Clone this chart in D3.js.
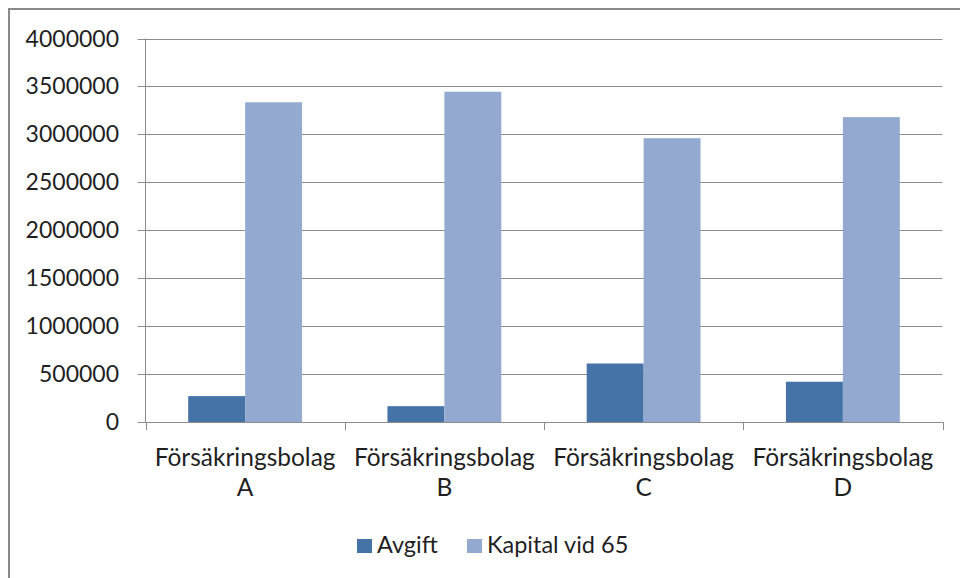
<!DOCTYPE html>
<html>
<head>
<meta charset="utf-8">
<script src="https://cdn.jsdelivr.net/npm/d3@7"></script>
<style>
  body { margin: 0; background: #fff; }
  text { font-family: Lato, "Open Sans", sans-serif; fill: #1f1f1f; }
</style>
</head>
<body>
<div class="content"></div>
<script>
var svgWidth = 960;
var svgHeight = 578;

// Data.
var companies = ["Försäkringsbolag A", "Försäkringsbolag B", "Försäkringsbolag C", "Försäkringsbolag D"];
var seriesNames = ["Avgift", "Kapital vid 65"];
var avgift = [270000, 165000, 610000, 420000];
var kapital = [3335000, 3445000, 2960000, 3180000];
var yTicks = [0, 500000, 1000000, 1500000, 2000000, 2500000, 3000000, 3500000, 4000000];

var colors = ["#4572A7", "#93A9CF"];

var plot = {left: 145.5, right: 942.5, top: 38.5, bottom: 422};

var svg = d3.select(".content")
  .append("svg")
  .attr("width", svgWidth)
  .attr("height", svgHeight);

// Outer chart border (only top and left are visible in the frame).
svg.append("rect")
  .attr("x", 9).attr("y", 9)
  .attr("width", 1000).attr("height", 1000)
  .attr("fill", "none")
  .attr("stroke", "#8a8a8a")
  .attr("stroke-width", 2);

var x0 = d3.scaleBand()
  .domain(companies)
  .range([plot.left, plot.right]);

// Excel gap width 150%: half the gap on each side of the bar pair.
var x1 = d3.scaleBand()
  .domain(seriesNames)
  .range([0, x0.bandwidth()])
  .paddingOuter(0.75);

var y = d3.scaleLinear()
  .domain([0, 4000000])
  .range([plot.bottom, plot.top]);

// Gridlines.
svg.append("g")
  .selectAll("line")
  .data(yTicks)
  .enter().append("line")
  .attr("x1", plot.left - 8)
  .attr("x2", plot.right)
  .attr("y1", function(d) { return Math.round(y(d)) + 0.5; })
  .attr("y2", function(d) { return Math.round(y(d)) + 0.5; })
  .attr("stroke", "#8c8c8c")
  .attr("stroke-width", 1);

// Y-axis labels.
svg.append("g")
  .selectAll("text")
  .data(yTicks)
  .enter().append("text")
  .attr("x", 119)
  .attr("y", function(d) { return y(d); })
  .attr("dy", "0.35em")
  .attr("text-anchor", "end")
  .style("font-size", "23px")
  .text(function(d) { return d; });

// Bars.
var rows = companies.map(function(c, i) { return {company: c, values: [avgift[i], kapital[i]]}; });

var groups = svg.append("g")
  .selectAll("g")
  .data(rows)
  .enter().append("g")
  .attr("transform", function(d) { return "translate(" + x0(d.company) + ",0)"; });

groups.selectAll("rect")
  .data(function(d) { return d.values.map(function(v, j) { return {name: seriesNames[j], value: v, color: colors[j]}; }); })
  .enter().append("rect")
  .attr("x", function(d) { return x1(d.name); })
  .attr("width", x1.bandwidth())
  .attr("y", function(d) { return y(d.value); })
  .attr("height", function(d) { return plot.bottom - y(d.value); })
  .attr("fill", function(d) { return d.color; });

// Y axis line and category axis ticks.
svg.append("line")
  .attr("x1", plot.left).attr("x2", plot.left)
  .attr("y1", plot.top).attr("y2", plot.bottom)
  .attr("stroke", "#8c8c8c");

svg.append("line")
  .attr("x1", plot.left).attr("x2", plot.right)
  .attr("y1", Math.round(plot.bottom) + 0.5).attr("y2", Math.round(plot.bottom) + 0.5)
  .attr("stroke", "#8c8c8c");

var catEdges = companies.map(function(c) { return x0(c); }).concat([plot.right]);
svg.append("g")
  .selectAll("line")
  .data(catEdges)
  .enter().append("line")
  .attr("x1", function(d) { return Math.round(d) + 0.5; })
  .attr("x2", function(d) { return Math.round(d) + 0.5; })
  .attr("y1", plot.bottom)
  .attr("y2", plot.bottom + 8)
  .attr("stroke", "#8c8c8c");

// Category labels on two lines.
var catLabels = svg.append("g")
  .selectAll("text")
  .data(companies)
  .enter().append("text")
  .attr("x", function(d) { return x0(d) + x0.bandwidth() / 2; })
  .attr("y", 466)
  .attr("text-anchor", "middle")
  .style("font-size", "24.5px");

catLabels.each(function(d) {
  var parts = d.split(" ");
  var t = d3.select(this);
  t.append("tspan").attr("x", t.attr("x")).text(parts[0]);
  t.append("tspan").attr("x", t.attr("x")).attr("dy", 30).text(parts[1]);
});

// Legend.
var legendX = [357, 467];
var legend = svg.append("g")
  .selectAll("g")
  .data(seriesNames)
  .enter().append("g")
  .attr("transform", function(d, i) { return "translate(" + legendX[i] + ",539)"; });

legend.append("rect")
  .attr("width", 15)
  .attr("height", 14)
  .attr("fill", function(d, i) { return colors[i]; });

legend.append("text")
  .attr("x", 20)
  .attr("y", 14)
  .style("font-size", "23.5px")
  .text(function(d) { return d; });
</script>
</body>
</html>
